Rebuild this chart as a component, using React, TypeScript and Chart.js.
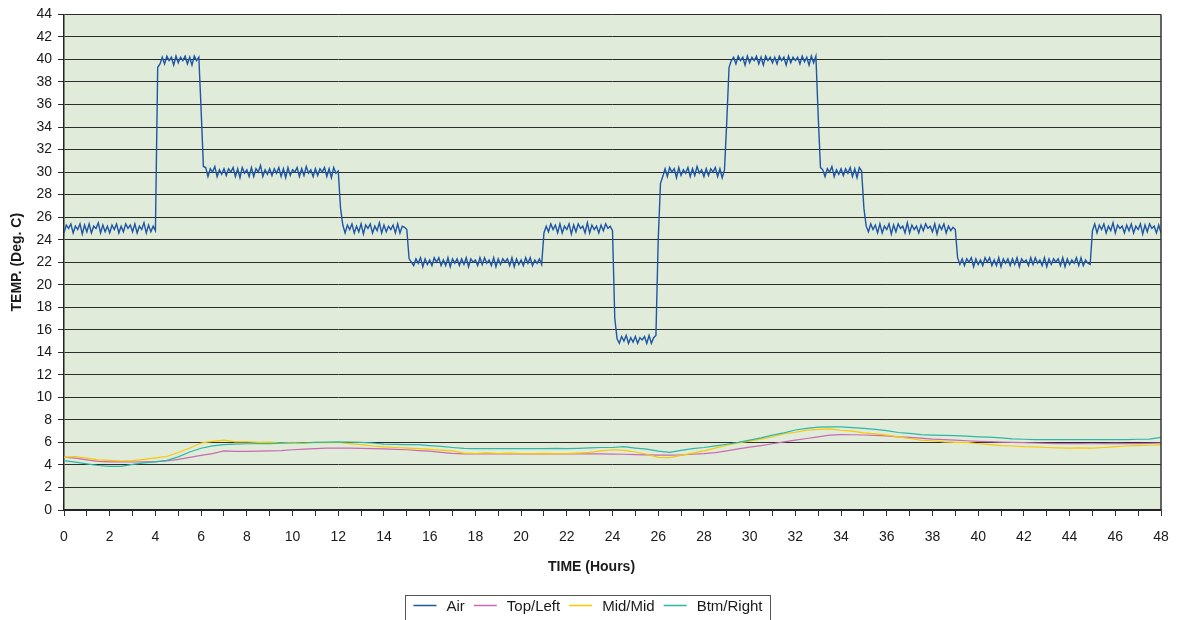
import React, { useEffect, useRef } from "react";
import { Chart, registerables } from "chart.js";

Chart.register(...registerables);

// ---------- data ----------
const HOURS_MIN = 0;
const HOURS_MAX = 48;
const TEMP_MIN = 0;
const TEMP_MAX = 44;
const AIR_STEP_HOURS = 0.1;
const PROBE_STEP_HOURS = 0.5;

const SERIES_LABELS = ["Air", "Top/Left", "Mid/Mid", "Btm/Right"];
const X_TITLE = "TIME (Hours)";
const Y_TITLE = "TEMP. (Deg. C)";

// Air temperature, one reading every 0.1 h from 0 to 48 h
const airTemp = [
  24.6, 25.3, 25.0, 25.4, 24.6, 25.2, 24.9, 25.4, 24.5, 25.3,
  24.7, 25.4, 24.6, 25.2, 25.0, 25.5, 24.6, 25.3, 24.7, 25.2,
  24.6, 25.3, 24.9, 25.4, 24.6, 25.2, 24.7, 25.4, 25.0, 25.3,
  24.7, 25.4, 24.6, 25.2, 24.9, 25.5, 24.6, 25.3, 24.7, 25.2,
  24.8, 39.3, 39.6, 40.2, 39.6, 40.3, 39.9, 40.2, 39.5, 40.3,
  39.7, 40.2, 39.9, 40.3, 39.6, 40.2, 39.5, 40.3, 39.9, 40.2,
  35.5, 30.5, 30.4, 29.6, 30.3, 30.0, 30.5, 29.6, 30.2, 29.8,
  30.3, 29.7, 30.3, 30.0, 30.4, 29.6, 30.3, 29.5, 30.4, 29.9,
  30.2, 29.6, 30.4, 29.6, 30.3, 30.0, 30.6, 29.6, 30.2, 29.8,
  30.3, 29.7, 30.3, 29.9, 30.4, 29.6, 30.3, 29.5, 30.4, 29.7,
  30.2, 30.0, 30.4, 29.6, 30.3, 29.7, 30.5, 29.9, 30.2, 29.6,
  30.3, 29.7, 30.3, 30.0, 30.4, 29.6, 30.3, 29.5, 30.4, 29.9,
  30.1, 26.8, 25.3, 24.6, 25.3, 24.9, 25.4, 24.6, 25.2, 24.7,
  25.4, 24.5, 25.3, 25.0, 25.4, 24.6, 25.2, 24.8, 25.5, 24.6,
  25.3, 24.7, 25.2, 24.9, 25.3, 24.6, 25.4, 24.6, 25.2, 25.1,
  24.9, 22.3, 22.0, 21.7, 22.3, 21.9, 22.4, 21.6, 22.3, 21.8,
  22.2, 21.7, 22.4, 22.0, 22.4, 21.7, 22.2, 21.7, 22.4, 21.6,
  22.3, 21.9, 22.3, 21.7, 22.3, 21.8, 22.4, 21.6, 22.3, 22.0,
  22.2, 21.7, 22.4, 21.8, 22.4, 21.9, 22.2, 21.7, 22.4, 21.6,
  22.3, 21.8, 22.3, 22.0, 22.3, 21.7, 22.4, 21.6, 22.3, 21.8,
  22.2, 21.7, 22.4, 21.9, 22.4, 21.7, 22.2, 21.9, 22.3, 21.8,
  24.6, 25.2, 24.7, 25.4, 24.9, 25.3, 24.6, 25.4, 24.6, 25.2,
  24.9, 25.4, 24.5, 25.3, 24.7, 25.4, 25.0, 25.2, 24.6, 25.5,
  24.6, 25.3, 24.9, 25.2, 24.6, 25.3, 24.8, 25.4, 25.0, 25.2,
  24.8, 17.0, 15.2, 14.8, 15.4, 15.0, 15.5, 14.8, 15.3, 14.9,
  15.4, 14.8, 15.3, 15.1, 15.4, 14.8, 15.5, 14.8, 15.3, 15.5,
  24.0, 29.0, 29.6, 30.3, 29.6, 30.4, 30.0, 30.3, 29.5, 30.4,
  29.7, 30.2, 29.9, 30.4, 29.6, 30.3, 29.7, 30.5, 29.9, 30.2,
  29.6, 30.3, 29.7, 30.3, 30.0, 30.4, 29.6, 30.3, 29.5, 30.2,
  34.5, 39.3, 39.9, 40.2, 39.6, 40.3, 39.9, 40.2, 39.5, 40.3,
  39.7, 40.2, 39.9, 40.3, 39.6, 40.2, 39.5, 40.3, 39.9, 40.2,
  39.7, 40.2, 39.6, 40.3, 39.9, 40.2, 39.5, 40.3, 39.7, 40.2,
  39.9, 40.2, 39.6, 40.3, 39.8, 40.2, 39.5, 40.3, 39.7, 40.3,
  35.0, 30.4, 30.2, 29.6, 30.3, 30.0, 30.5, 29.6, 30.2, 29.8,
  30.3, 29.7, 30.3, 29.9, 30.4, 29.6, 30.3, 29.5, 30.4, 30.1,
  26.8, 25.2, 24.7, 25.4, 24.9, 25.3, 24.6, 25.4, 24.6, 25.2,
  24.9, 25.4, 24.5, 25.3, 24.7, 25.4, 25.0, 25.2, 24.6, 25.5,
  24.6, 25.3, 24.9, 25.2, 24.6, 25.3, 24.8, 25.4, 25.0, 25.2,
  24.7, 25.4, 24.5, 25.3, 24.9, 25.4, 24.6, 25.2, 24.8, 25.1,
  24.9, 22.4, 21.8, 22.3, 21.7, 22.3, 22.0, 22.4, 21.6, 22.3,
  21.8, 22.2, 21.7, 22.4, 22.0, 22.4, 21.7, 22.2, 21.7, 22.4,
  21.6, 22.3, 21.9, 22.3, 21.7, 22.3, 21.8, 22.4, 21.6, 22.3,
  22.0, 22.2, 21.7, 22.4, 21.8, 22.4, 21.9, 22.2, 21.7, 22.4,
  21.6, 22.3, 21.8, 22.3, 22.0, 22.3, 21.7, 22.4, 21.6, 22.3,
  21.8, 22.2, 21.9, 22.4, 21.7, 22.4, 21.7, 22.2, 21.9, 21.8,
  24.8, 25.4, 24.6, 25.3, 24.9, 25.4, 24.6, 25.2, 24.8, 25.5,
  24.6, 25.3, 25.0, 25.2, 24.6, 25.3, 24.8, 25.4, 24.6, 25.2,
  24.9, 25.4, 24.5, 25.3, 24.7, 25.4, 25.0, 25.2, 24.6, 25.3,
  24.6,
];

// Probe temperatures, one reading every 0.5 h from 0 to 48 h
const topLeftTemp = [
  4.70, 4.60, 4.45, 4.32, 4.27, 4.27, 4.26, 4.28, 4.30, 4.35,
  4.50, 4.68, 4.85, 5.00, 5.25, 5.20, 5.20, 5.22, 5.25, 5.28,
  5.35, 5.40, 5.45, 5.50, 5.50, 5.50, 5.47, 5.45, 5.42, 5.38,
  5.35, 5.28, 5.22, 5.12, 5.02, 4.98, 4.98, 4.98, 4.98, 4.98,
  4.98, 4.98, 4.98, 4.98, 4.98, 4.98, 4.98, 4.98, 4.96, 4.95,
  4.92, 4.90, 4.88, 4.88, 4.90, 4.95, 5.00, 5.10, 5.25, 5.42,
  5.58, 5.72, 5.88, 6.05, 6.20, 6.35, 6.50, 6.65, 6.70, 6.68,
  6.66, 6.62, 6.58, 6.50, 6.45, 6.38, 6.30, 6.25, 6.20, 6.15,
  6.10, 6.07, 6.03, 6.00, 5.98, 5.95, 5.92, 5.90, 5.90, 5.90,
  5.88, 5.90, 5.92, 5.90, 5.90, 5.92, 5.95,
];

const midMidTemp = [
  4.68, 4.75, 4.60, 4.45, 4.40, 4.35, 4.38, 4.50, 4.62, 4.75,
  5.10, 5.50, 5.95, 6.10, 6.20, 6.05, 6.05, 6.00, 6.02, 5.95,
  6.00, 5.92, 6.00, 5.98, 6.00, 5.90, 5.80, 5.68, 5.60, 5.55,
  5.50, 5.45, 5.38, 5.32, 5.25, 5.05, 5.00, 5.08, 5.00, 5.05,
  5.00, 5.00, 5.02, 5.00, 5.00, 5.05, 5.12, 5.25, 5.35, 5.30,
  5.15, 4.95, 4.68, 4.65, 4.85, 5.05, 5.25, 5.50, 5.75, 5.95,
  6.12, 6.30, 6.50, 6.75, 6.90, 7.08, 7.15, 7.20, 7.08, 7.00,
  6.85, 6.75, 6.65, 6.50, 6.35, 6.20, 6.15, 6.05, 6.00, 6.00,
  5.88, 5.80, 5.72, 5.68, 5.62, 5.60, 5.55, 5.52, 5.50, 5.52,
  5.50, 5.55, 5.62, 5.68, 5.72, 5.75, 5.78,
];

const btmRightTemp = [
  4.38, 4.25, 4.10, 3.95, 3.88, 3.88, 4.05, 4.18, 4.28, 4.40,
  4.72, 5.15, 5.48, 5.70, 5.80, 5.85, 5.88, 5.90, 5.90, 5.93,
  5.95, 5.97, 6.00, 6.02, 6.05, 6.02, 6.00, 5.95, 5.85, 5.82,
  5.80, 5.80, 5.72, 5.65, 5.55, 5.47, 5.45, 5.45, 5.45, 5.45,
  5.45, 5.45, 5.45, 5.48, 5.45, 5.48, 5.52, 5.55, 5.55, 5.62,
  5.50, 5.40, 5.22, 5.12, 5.30, 5.45, 5.55, 5.70, 5.84, 6.00,
  6.20, 6.40, 6.65, 6.85, 7.10, 7.25, 7.35, 7.38, 7.38, 7.32,
  7.25, 7.15, 7.05, 6.88, 6.80, 6.70, 6.65, 6.62, 6.60, 6.55,
  6.50, 6.47, 6.40, 6.32, 6.28, 6.25, 6.25, 6.25, 6.25, 6.25,
  6.25, 6.25, 6.25, 6.25, 6.28, 6.30, 6.45,
];

// ---------- styling ----------
const FONT = '"Liberation Sans", Arial, Helvetica, sans-serif';
const COLORS = ["#1d56a5", "#c86ab4", "#f8c800", "#2cb7a8"];
const PLOT_BG = "#e1ebd9";
const INK = "#1a1a1a";

const toPoints = (values: number[], step: number) =>
  values.map((v, i) => ({ x: Math.round(i * step * 100) / 100, y: v }));

const framePlugin = {
  id: "frameAndLegend",
  beforeDraw(chart: any) {
    const { ctx, chartArea: a, width, height } = chart;
    ctx.save();
    ctx.fillStyle = "#ffffff";
    ctx.fillRect(0, 0, width, height);
    ctx.fillStyle = PLOT_BG;
    ctx.fillRect(a.left, a.top, a.right - a.left, a.bottom - a.top);
    ctx.restore();
  },
  afterDraw(chart: any) {
    const { ctx, chartArea: a, width } = chart;
    ctx.save();
    // right frame edge
    ctx.strokeStyle = "#333333";
    ctx.lineWidth = 1.5;
    ctx.beginPath();
    ctx.moveTo(a.right, a.top);
    ctx.lineTo(a.right, a.bottom);
    ctx.stroke();

    // axis titles
    ctx.fillStyle = INK;
    ctx.font = `bold 14px ${FONT}`;
    ctx.textAlign = "center";
    ctx.textBaseline = "middle";
    ctx.fillText(X_TITLE, width / 2, 567);
    ctx.save();
    ctx.translate(17, (a.top + a.bottom) / 2);
    ctx.rotate(-Math.PI / 2);
    ctx.fillText(Y_TITLE, 0, 0);
    ctx.restore();

    // legend
    const datasets = chart.data.datasets;
    ctx.font = `15px ${FONT}`;
    const lineLen = 23;
    const gapLineText = 10;
    const gapItems = 9;
    const widths = datasets.map((d: any) => ctx.measureText(d.label).width);
    let total = 0;
    widths.forEach((w: number, i: number) => {
      total += lineLen + gapLineText + w + (i < widths.length - 1 ? gapItems : 0);
    });
    const cx = 588;
    const boxPad = 8;
    const boxLeft = cx - total / 2 - boxPad;
    const boxRight = cx + total / 2 + boxPad;
    const boxTop = 595.5;
    ctx.strokeStyle = "#555555";
    ctx.lineWidth = 1;
    ctx.strokeRect(Math.round(boxLeft) + 0.5, boxTop, Math.round(boxRight - boxLeft), 60);
    let x = cx - total / 2;
    const y = 605.5;
    ctx.textAlign = "left";
    ctx.textBaseline = "middle";
    datasets.forEach((d: any, i: number) => {
      ctx.strokeStyle = d.borderColor;
      ctx.lineWidth = 1.5;
      ctx.beginPath();
      ctx.moveTo(x, y);
      ctx.lineTo(x + lineLen, y);
      ctx.stroke();
      x += lineLen + gapLineText;
      ctx.fillStyle = INK;
      ctx.fillText(d.label, x, y + 1);
      x += widths[i] + gapItems;
    });
    ctx.restore();
  },
};

export default function App() {
  const ref = useRef<HTMLCanvasElement>(null);

  useEffect(() => {
    document.body.style.margin = "0";
    const canvas = ref.current!;
    const chart = new Chart(canvas, {
      type: "line",
      data: {
        datasets: [
          {
            label: SERIES_LABELS[0],
            data: toPoints(airTemp, AIR_STEP_HOURS),
            borderColor: COLORS[0],
            borderWidth: 1.4,
            order: 0,
          },
          {
            label: SERIES_LABELS[1],
            data: toPoints(topLeftTemp, PROBE_STEP_HOURS),
            borderColor: COLORS[1],
            borderWidth: 1.2,
            order: 3,
          },
          {
            label: SERIES_LABELS[2],
            data: toPoints(midMidTemp, PROBE_STEP_HOURS),
            borderColor: COLORS[2],
            borderWidth: 1.2,
            order: 2,
          },
          {
            label: SERIES_LABELS[3],
            data: toPoints(btmRightTemp, PROBE_STEP_HOURS),
            borderColor: COLORS[3],
            borderWidth: 1.2,
            order: 1,
          },
        ] as any,
      },
      options: {
        responsive: false,
        animation: false,
        devicePixelRatio: 1,
        layout: { padding: { top: 13, right: 22, left: 0, bottom: 0 } },
        elements: {
          point: { radius: 0, hoverRadius: 0 },
          line: { tension: 0, fill: false },
        },
        plugins: {
          legend: { display: false },
          tooltip: { enabled: false },
          title: { display: false },
        },
        events: [],
        scales: {
          x: {
            type: "linear",
            min: HOURS_MIN,
            max: HOURS_MAX,
            afterFit: (s: any) => {
              s.height = 110;
            },
            grid: {
              drawOnChartArea: false,
              drawTicks: true,
              tickLength: 6,
              color: "#333333",
            },
            border: { display: true, color: "#222222", width: 1.5 },
            ticks: {
              stepSize: 1,
              autoSkip: false,
              maxRotation: 0,
              padding: 13,
              color: INK,
              font: { family: FONT, size: 14 },
              callback: (v: any) => (Number(v) % 2 === 0 ? String(v) : ""),
            },
          },
          y: {
            type: "linear",
            min: TEMP_MIN,
            max: TEMP_MAX,
            afterFit: (s: any) => {
              s.width = 64;
            },
            grid: {
              drawOnChartArea: true,
              drawTicks: true,
              tickLength: 6,
              color: "#2b2b2b",
              lineWidth: 1,
            },
            border: { display: true, color: "#222222", width: 1.5 },
            ticks: {
              stepSize: 2,
              autoSkip: false,
              padding: 6,
              color: INK,
              font: { family: FONT, size: 14 },
            },
          },
        },
      } as any,
      plugins: [framePlugin],
    });
    return () => chart.destroy();
  }, []);

  return (
    <div style={{ width: 1183, height: 620, overflow: "hidden", background: "#fff" }}>
      <canvas ref={ref} width={1183} height={620} style={{ display: "block" }} />
    </div>
  );
}
